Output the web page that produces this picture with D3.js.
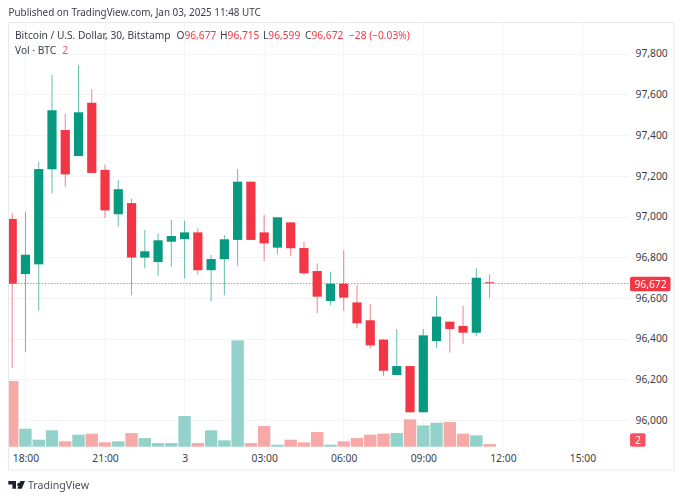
<!DOCTYPE html>
<html><head><meta charset="utf-8">
<script src="https://cdnjs.cloudflare.com/ajax/libs/d3/7.8.5/d3.min.js"></script>
<style>
html,body{margin:0;padding:0;background:#fff}
svg{display:block;filter:blur(0.25px)}
text{font-family:"Noto Sans",sans-serif}
</style></head><body>
<svg id="c" width="683" height="500"></svg>
<script>
const opens  =[96988,96717,96765,97232,97425,97297,97559,97229,97011,97066,96798,96776,96876,96889,96922,96736,96790,96885,97171,96922,96847,96971,96845,96732,96585,96670,96578,96490,96395,96221,96265,96038,96388,96483,96462,96429,96677];
const closes =[96670,96812,97233,97522,97207,97512,97214,97030,97134,96798,96829,96883,96904,96922,96736,96791,96888,97171,96885,96868,96996,96844,96721,96606,96670,96601,96475,96367,96242,96265,96038,96416,96508,96447,96429,96699,96672];
const highs  =[97016,97024,97268,97697,97504,97743,97625,97255,97179,97087,96934,96917,96983,96979,96942,96811,96909,97233,97171,97007,96996,96971,96875,96770,96729,96834,96663,96570,96398,96447,96265,96447,96609,96483,96562,96745,96715];
const lows   =[96256,96336,96537,97114,97146,97297,97214,96993,96950,96613,96745,96709,96753,96696,96713,96583,96613,96758,96885,96781,96814,96807,96714,96526,96564,96537,96451,96352,96218,96221,96038,96038,96355,96331,96373,96413,96599];
const volumes=[52.5,14.4,5.6,13.1,4.3,9.6,10.4,3.5,4.3,10.9,6.9,2.9,2.9,24.5,2.9,13.1,5.1,85,2.9,16.5,1.6,5.6,3.5,11.7,1.6,4.3,6.9,9.6,10.4,10.9,21.9,17,19.2,19.7,10.4,9.1,2.1];
const priceTicks=[96000,96200,96400,96600,96800,97000,97200,97400,97600,97800];
const timeTickIdx=[1,7,13,19,25,31,37,43];
const timeTickLabels=["18:00","21:00","3","03:00","06:00","09:00","12:00","15:00"];
const lastPrice=96672, lastVolume="2";
const titleText="Bitcoin / U.S. Dollar, 30, Bitstamp";
const ohlcLabels=["O","H","L","C"];
const ohlcValues=["96,677","96,715","96,599","96,672"];
const changeText="−28 (−0.03%)";

const UP="#089981",DOWN="#f23645",TXT="#3a3d47",GRID="#f3f4f6";
const svg=d3.select("#c");
const x=d3.scaleLinear().domain([0,36]).range([12.2,489.6]);
const y=d3.scaleLinear().domain([96000,97800]).range([420,53.7]);
const yv=d3.scaleLinear().domain([0,85]).range([446.7,340.4]);

svg.append("clipPath").attr("id","plot").append("rect").attr("x",9).attr("y",23).attr("width",620).attr("height",424);

// frame
svg.append("rect").attr("x",8.5).attr("y",22.5).attr("width",665.5).attr("height",447.5)
  .attr("fill","#fff").attr("stroke","#e6e8ee");
// grid
const grid=svg.append("g");
grid.selectAll("line.h").data(priceTicks).join("line").attr("class","h")
  .attr("x1",9).attr("x2",629).attr("y1",d=>Math.round(y(d))+.5).attr("y2",d=>Math.round(y(d))+.5)
  .attr("stroke",GRID);
grid.selectAll("line.v").data(timeTickIdx).join("line").attr("class","v")
  .attr("x1",d=>x(d)).attr("x2",d=>x(d)).attr("y1",23).attr("y2",447).attr("stroke",GRID);

const plot=svg.append("g").attr("clip-path","url(#plot)");
// volumes
plot.append("g").selectAll("rect").data(volumes).join("rect")
  .attr("x",(d,i)=>x(i)-6.2).attr("width",12.4)
  .attr("y",d=>yv(d)).attr("height",d=>yv(0)-yv(d))
  .attr("fill",(d,i)=>closes[i]>=opens[i]?"#92d2ca":"#f7a9a7");

// last price line
plot.append("line").attr("x1",9).attr("x2",629).attr("y1",Math.round(y(lastPrice))+.5).attr("y2",Math.round(y(lastPrice))+.5)
  .attr("stroke","#f7808a").attr("stroke-width",1).attr("stroke-dasharray","1.5 1.5");

// candles
const c=plot.append("g").selectAll("g").data(opens).join("g");
c.append("line").attr("x1",(d,i)=>x(i)).attr("x2",(d,i)=>x(i))
  .attr("y1",(d,i)=>y(highs[i])).attr("y2",(d,i)=>y(lows[i]))
  .attr("stroke",(d,i)=>closes[i]>=opens[i]?UP:DOWN).attr("stroke-width",1).attr("opacity",.62);
c.append("rect").attr("x",(d,i)=>x(i)-4.6).attr("width",9.2)
  .attr("y",(d,i)=>y(Math.max(opens[i],closes[i])))
  .attr("height",(d,i)=>Math.max(1,Math.abs(y(opens[i])-y(closes[i]))))
  .attr("fill",(d,i)=>closes[i]>=opens[i]?UP:DOWN);

// price axis
const ya=svg.append("g").attr("transform","translate(635.5,0)")
  .call(d3.axisRight(y).tickValues(priceTicks).tickSize(0).tickPadding(0).tickFormat(d3.format(",")));
ya.select(".domain").remove();
ya.selectAll("text").attr("font-size",10.3).attr("fill",TXT).style("font-family",'"Noto Sans",sans-serif');

// time axis
const xa=svg.append("g").attr("transform","translate(0,454.5)")
  .call(d3.axisBottom(x).tickValues(timeTickIdx).tickSize(0).tickPadding(0)
    .tickFormat((d,i)=>timeTickLabels[i]));
xa.select(".domain").remove();
xa.selectAll("text").attr("font-size",10.3).attr("fill",TXT).style("font-family",'"Noto Sans",sans-serif');

// value labels
svg.append("rect").attr("x",630).attr("y",276.7).attr("width",40.5).attr("height",14.5).attr("rx",2).attr("fill",DOWN);
svg.append("text").attr("x",650.5).attr("y",287.6).attr("text-anchor","middle").attr("font-size",10.3).attr("fill","#fff").text(d3.format(",")(lastPrice));
svg.append("rect").attr("x",630).attr("y",433.2).attr("width",15.5).attr("height",13.5).attr("rx",2).attr("fill","#f7525f");
svg.append("text").attr("x",638).attr("y",443.8).attr("text-anchor","middle").attr("font-size",10.3).attr("fill","#fff").text(lastVolume);

// headers
svg.append("text").attr("x",8.5).attr("y",16).attr("font-size",9.9).attr("fill",TXT).text("Published on TradingView.com, Jan 03, 2025 11:48 UTC");
svg.append("text").attr("x",15).attr("y",39).attr("font-size",10.2).attr("fill",TXT).text(titleText);
const ohlcX=[176.5,220,263,305];
ohlcLabels.forEach((l,i)=>{
  const t=svg.append("text").attr("x",ohlcX[i]).attr("y",39).attr("font-size",10.2).attr("fill",TXT);
  t.append("tspan").text(l);
  t.append("tspan").attr("fill",DOWN).text(ohlcValues[i]);
});
svg.append("text").attr("x",349).attr("y",39).attr("font-size",10.2).attr("fill",DOWN).text(changeText);
const v=svg.append("text").attr("x",15).attr("y",53.5).attr("font-size",10.2).attr("fill",TXT);
v.append("tspan").text("Vol · BTC");
v.append("tspan").attr("dx",6).attr("fill","#f7525f").text(lastVolume);

// footer logo
svg.append("path").attr("fill","#1e222d")
  .attr("d","M8.3 481h7.7v7.8h-3.6v-4.2h-4.1z M19 482.8a1.8 1.8 0 1 1 -0.01 0z M17.2 488.8l3.2-7.8h4.6l-3.3 7.8z");
svg.append("text").attr("x",28).attr("y",489).attr("font-size",10.6).attr("fill","#4a4d57").text("TradingView");
</script></body></html>
